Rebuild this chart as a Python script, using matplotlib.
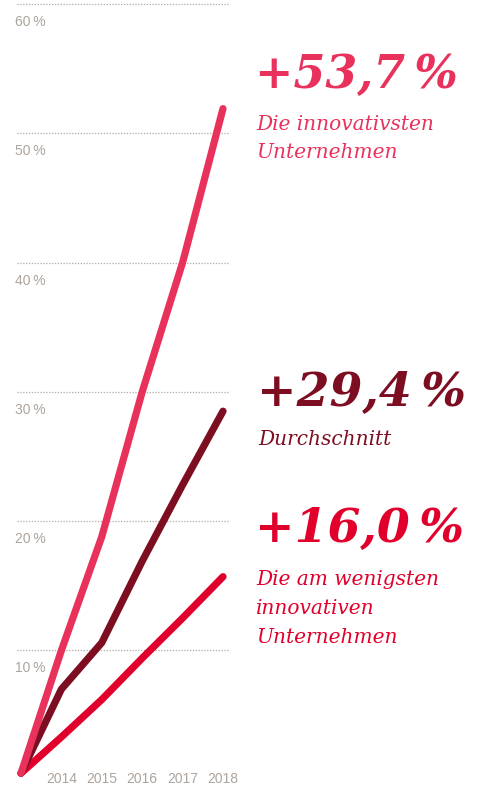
import matplotlib
matplotlib.use("Agg")
import matplotlib.pyplot as plt
from matplotlib.transforms import offset_copy

# ---------------------------------------------
# Data (index growth since 2013, in percent)
# ---------------------------------------------
years = [2013, 2014, 2015, 2016, 2017, 2018]
most_innovative = [0.5, 10.0, 18.8, 30.0, 40.0, 51.9]
average = [0.5, 7.0, 10.6, 16.9, 22.8, 28.5]
least_innovative = [0.5, 3.3, 6.2, 9.4, 12.5, 15.7]

y_ticks = [10, 20, 30, 40, 50, 60]
x_tick_years = [2014, 2015, 2016, 2017, 2018]

headlines = ["+53,7\u2009%", "+29,4\u2009%", "+16,0\u2009%"]
captions = [["Die innovativsten", "Unternehmen"],
            ["Durchschnitt"],
            ["Die am wenigsten", "innovativen", "Unternehmen"]]

# ---------------------------------------------
# Style
# ---------------------------------------------
PINK = "#E8325C"
DARK = "#7D0E22"
RED = "#E0002B"
GRID = "#B3A9A1"
TICK = "#ADA49C"

W, H = 492, 787
fig = plt.figure(figsize=(W / 100, H / 100), dpi=100)
ax = fig.add_axes([0, 0, 1, 1])
ax.set_xlim(2013 - 21 / 40.4, 2013 + (W - 21) / 40.4)
ax.set_ylim(-7.3 / 12.93, 779.7 / 12.93)
ax.axis("off")

# gridlines
ax.hlines(y_ticks, 2012.9, 2018.15, colors=GRID, lw=0.9,
          linestyles=(0, (1.0, 1.3)), zorder=1)

# y labels sit just below their gridline
below = offset_copy(ax.transData, fig=fig, x=0, y=-11, units="dots")
for v in y_ticks:
    ax.text(2012.85, v, f"{v}\u2009%", transform=below, ha="left", va="top",
            fontsize=10, color=TICK, family="Liberation Sans")

# x labels along the zero line (kept just inside the bottom edge)
xlab = offset_copy(ax.transData, fig=fig, x=0, y=1, units="dots")
for yr in x_tick_years:
    ax.text(yr, 0, str(yr), transform=xlab, ha="center", va="center",
            fontsize=10, color=TICK, family="Liberation Sans")

# lines
for vals, col, z in [(least_innovative, RED, 2), (average, DARK, 3), (most_innovative, PINK, 4)]:
    ax.plot(years, vals, color=col, lw=5.2, solid_capstyle="round",
            solid_joinstyle="round", zorder=z)

# annotations (pixel positions of baselines)
blocks = [
    (PINK, 255, 88, 33, [130, 158]),
    (DARK, 257, 406, 34, [445]),
    (RED, 255, 542, 34, [585, 614, 643]),
]
for (col, x0, base, size, cap_bases), head, lines in zip(blocks, headlines, captions):
    fig.text(x0 / W, 1 - base / H, head, color=col, fontsize=size,
             fontweight="bold", fontstyle="italic", family="DejaVu Serif",
             ha="left", va="baseline")
    for yb, line in zip(cap_bases, lines):
        fig.text((x0 + 1) / W, 1 - yb / H, line, color=col, fontsize=14.5,
                 fontstyle="italic", family="DejaVu Serif",
                 ha="left", va="baseline")

fig.savefig("out.png", dpi=100)
